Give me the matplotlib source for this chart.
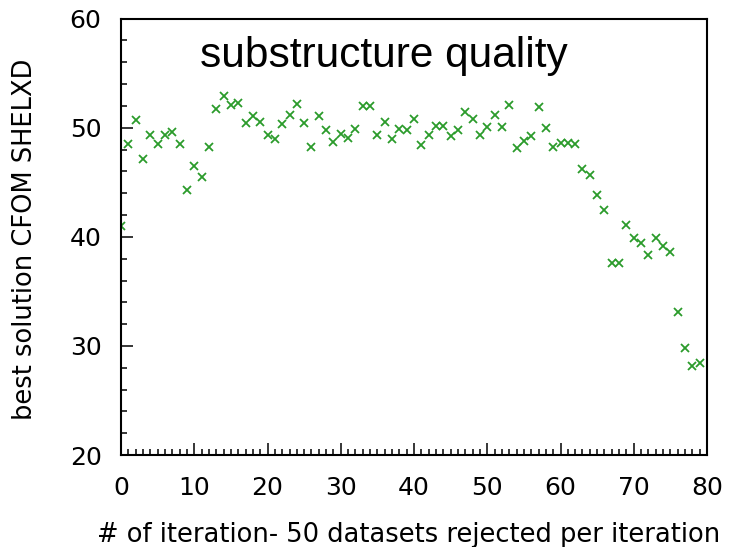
import matplotlib

matplotlib.use("Agg")

import matplotlib.pyplot as plt
from matplotlib.ticker import MultipleLocator

iteration = list(range(80))
cfom = [
    41.0, 48.5, 50.7, 47.1, 49.3, 48.5, 49.3, 49.6, 48.5, 44.3,
    46.5, 45.5, 48.2, 51.7, 52.9, 52.1, 52.3, 50.4, 51.1, 50.5,
    49.3, 49.0, 50.3, 51.2, 52.2, 50.4, 48.2, 51.1, 49.8, 48.7,
    49.4, 49.1, 49.9, 52.0, 52.0, 49.3, 50.5, 49.0, 49.9, 49.8,
    50.8, 48.4, 49.3, 50.2, 50.2, 49.2, 49.8, 51.4, 50.8, 49.3,
    50.1, 51.2, 50.1, 52.1, 48.1, 48.8, 49.2, 51.9, 50.0, 48.2,
    48.6, 48.6, 48.5, 46.2, 45.7, 43.8, 42.5, 37.6, 37.6, 41.1,
    39.9, 39.4, 38.3, 39.9, 39.2, 38.6, 33.1, 29.8, 28.2, 28.4,
]

title_text = "substructure quality"
x_label = "# of iteration- 50 datasets rejected per iteration"
y_label = "best solution CFOM SHELXD"

fig = plt.figure(figsize=(7.3, 5.47), dpi=100)
ax = fig.add_axes([0.1658, 0.168, 0.8027, 0.798])

ax.plot(iteration, cfom, linestyle="none", marker="x", color="#2b9b2b",
        markersize=5.5, markeredgewidth=1.3)

ax.set_xlim(0, 80)
ax.set_ylim(20, 60)
ax.xaxis.set_major_locator(MultipleLocator(10))
ax.xaxis.set_minor_locator(MultipleLocator(1))
ax.yaxis.set_major_locator(MultipleLocator(10))
ax.yaxis.set_minor_locator(MultipleLocator(2))
ax.tick_params(which="both", direction="in", top=False, right=False, width=1.1)
ax.tick_params(which="major", length=8.6, labelsize=18)
ax.tick_params(axis="x", which="major", pad=15)
ax.tick_params(axis="y", which="major", pad=14)
ax.tick_params(which="minor", length=4.3)
for side in ax.spines.values():
    side.set_linewidth(1.5)

ax.text(0.448, 0.915, title_text, transform=ax.transAxes, ha="center", va="center",
        fontsize=30.5, family="Liberation Sans")
ax.set_xlabel(x_label, fontsize=18.5, labelpad=16)
ax.xaxis.label.set_x(0.49)
ax.set_ylabel(y_label, fontsize=18.5)
ax.yaxis.set_label_coords(-0.142, 0.495)

fig.savefig("out.png", dpi=100)
